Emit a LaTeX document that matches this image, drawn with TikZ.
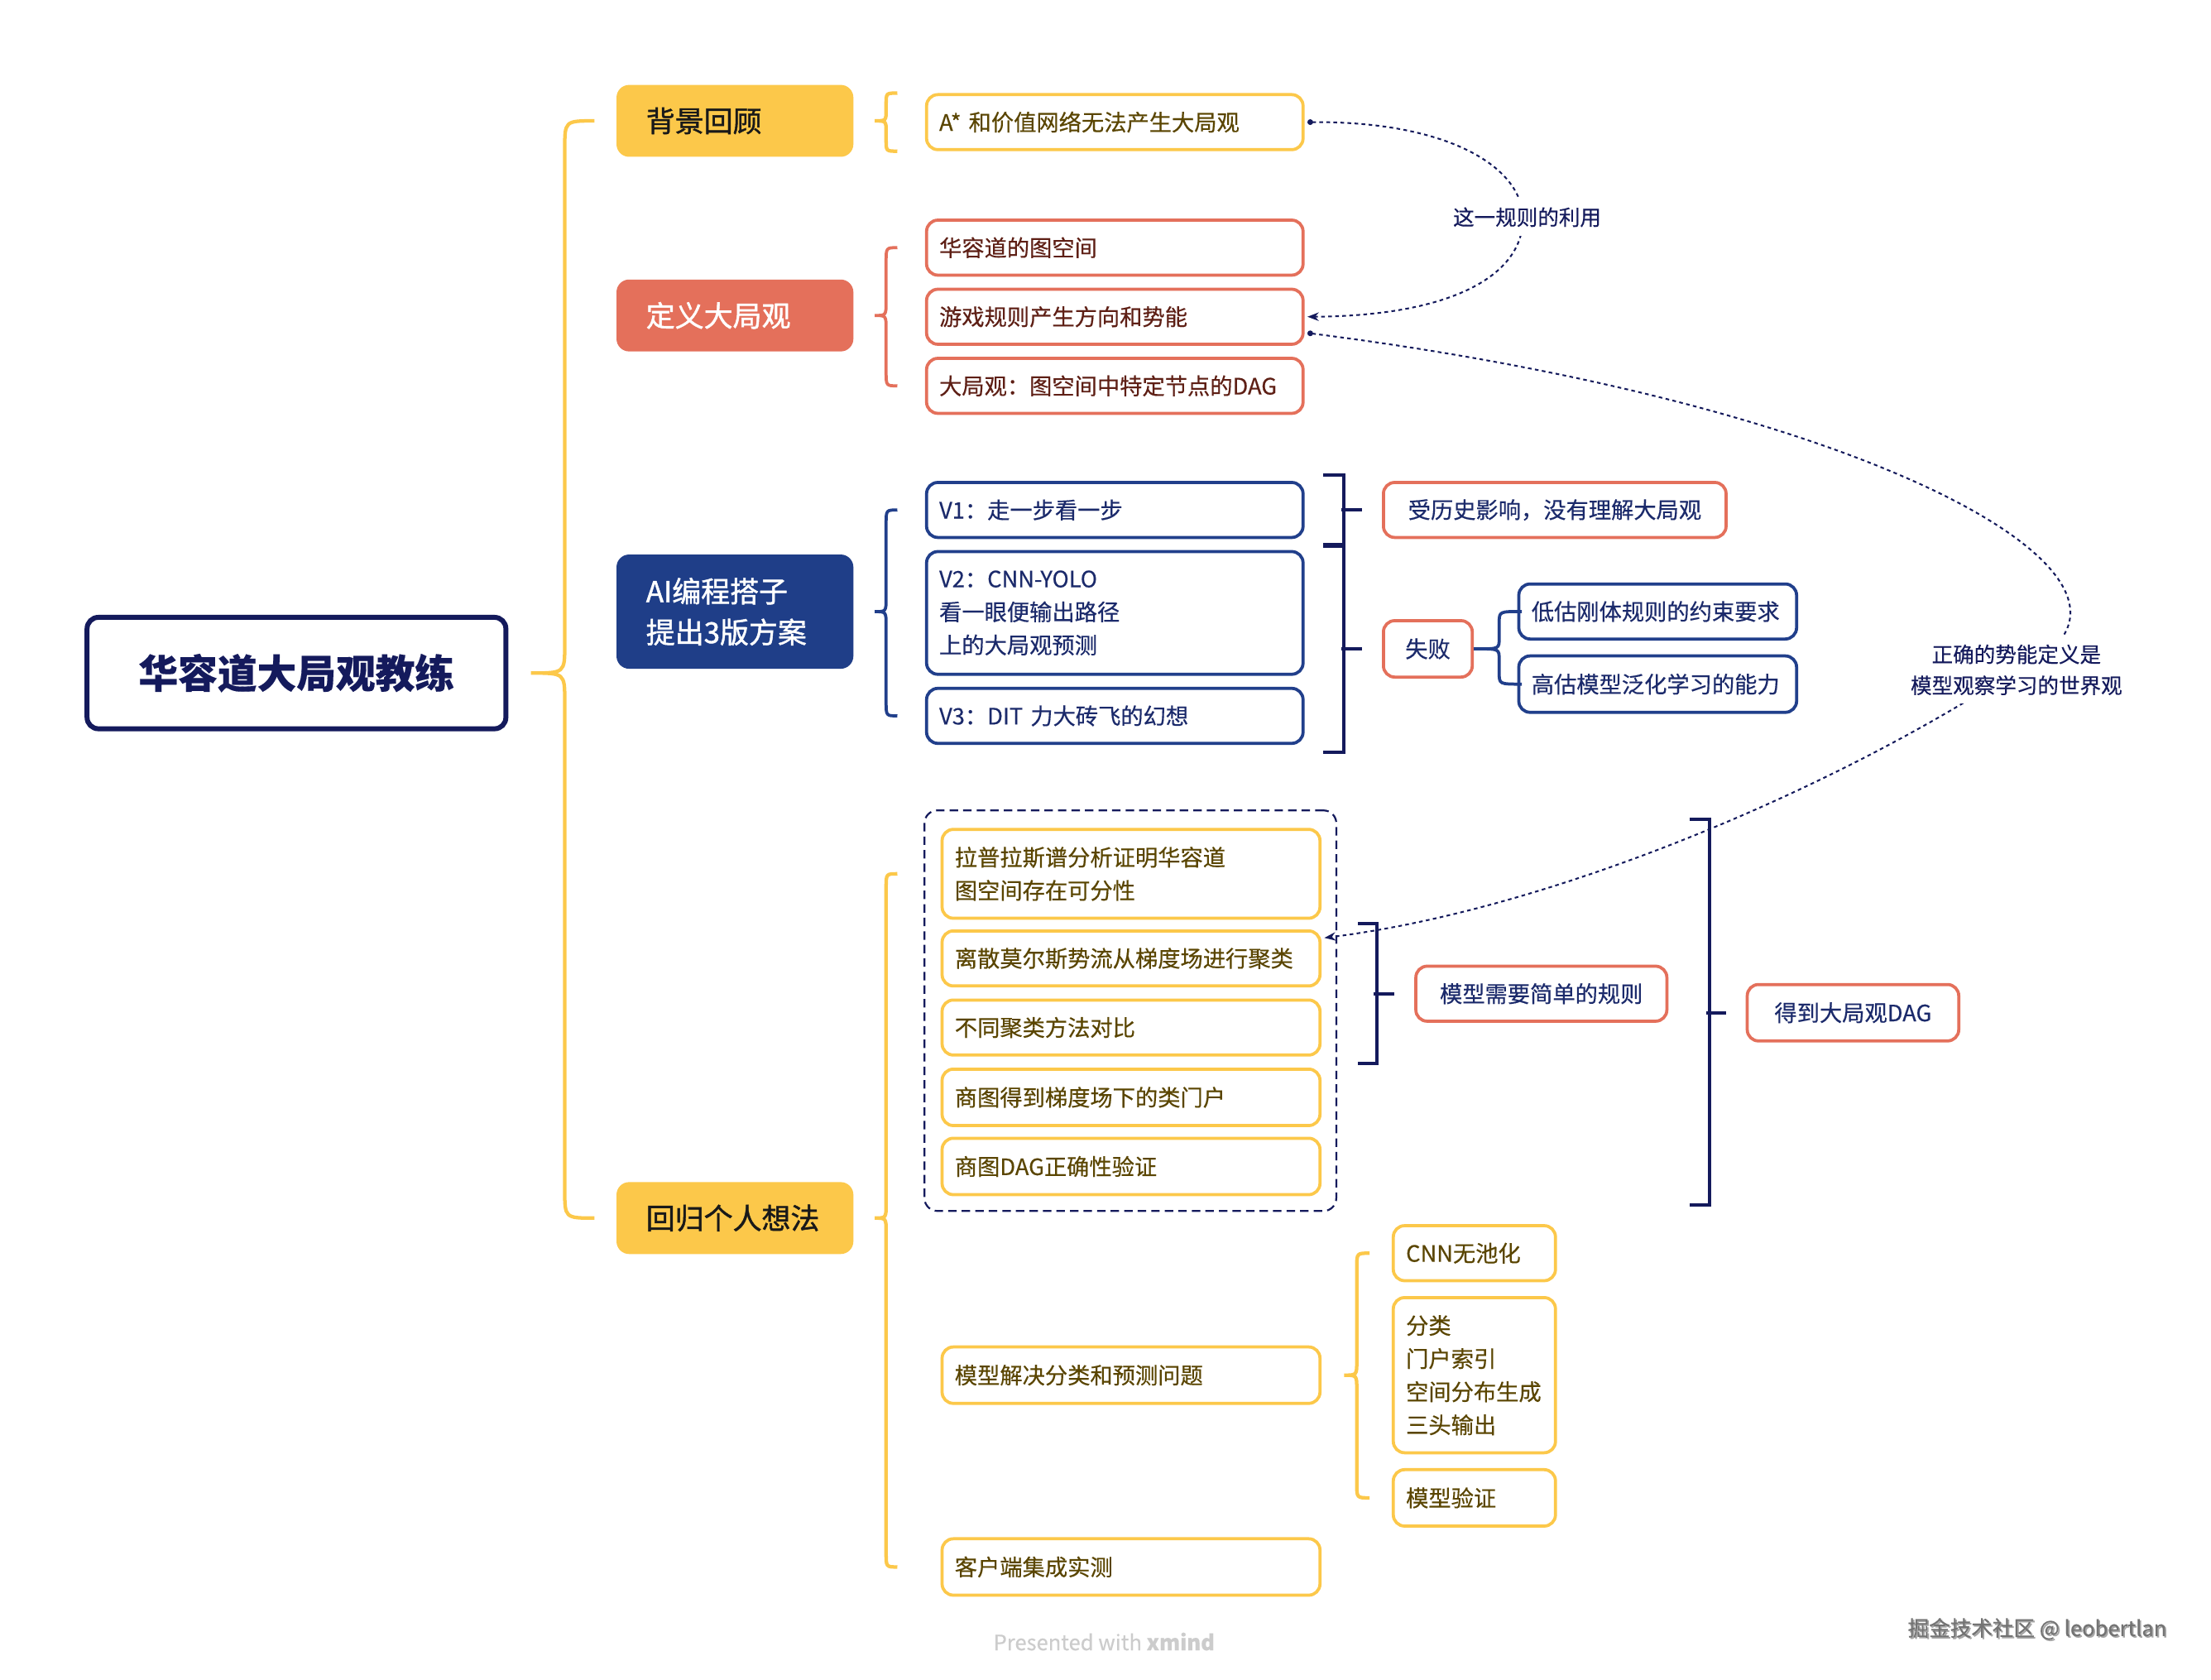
\documentclass[tikz,border=0pt]{standalone}
\usepackage{fontspec}
\setmainfont{Noto Sans CJK SC}[FakeBold=0.35]
\newfontfamily\lonefont{Noto Sans CJK SC}[FakeBold=1.3]
\usetikzlibrary{calc,arrows.meta}
\definecolor{ylw}{HTML}{FCC84A}
\definecolor{crl}{HTML}{E4705B}
\definecolor{nvf}{HTML}{1F3E88}
\definecolor{nvb}{HTML}{213F8B}
\definecolor{nvd}{HTML}{141A5C}
\definecolor{ytxt}{HTML}{5A4500}
\definecolor{ctxt}{HTML}{5E1F15}
\definecolor{ntxt}{HTML}{1B2A6B}
\newcommand{\mybrace}[7]{%
\draw[#1] let \p1=#2, \p2=#5, \p3=#6 in
 ({\x1+#7},\y2) .. controls ({\x1+#3},\y2) .. ({\x1+#3},{\y2-#4}) -- ({\x1+#3},{\y1+#4}) .. controls ({\x1+#3},\y1) .. (\x1,\y1) .. controls ({\x1+#3},\y1) .. ({\x1+#3},{\y1-#4}) -- ({\x1+#3},{\y3+#4}) .. controls ({\x1+#3},\y3) .. ({\x1+#7},\y3);}
\begin{document}
\begin{tikzpicture}[x=1pt,y=-1pt,
  box/.style={draw, rounded corners=8pt, line width=2.2pt, fill=white, anchor=north west, inner xsep=9pt, inner ysep=0pt, align=left, font=\fontsize{16}{23.5}\selectfont},
  ych/.style={box, draw=ylw, text=ytxt},
  cch/.style={box, draw=crl, text=ctxt},
  nch/.style={box, draw=nvb, text=ntxt},
  sumn/.style={box, draw=crl, text=ntxt, align=center, inner xsep=4pt},
  lone/.style={rounded corners=9pt, anchor=north west, inner xsep=21pt, inner ysep=0pt, align=left, font=\lonefont\fontsize{20.5}{29}\selectfont, minimum height=51pt, text width=126pt},
  ybr/.style={draw=ylw, line width=2.5pt},
  cbr/.style={draw=crl, line width=2.2pt},
  nbr/.style={draw=nvb, line width=2.2pt},
  bk/.style={draw=nvd, line width=2.4pt},
  rel/.style={draw=nvd, line width=1.2pt, dash pattern=on 2.6pt off 2.4pt, {Circle[length=4pt]}-{Stealth[length=8pt,width=6pt]}},
  rlab/.style={fill=white, text=nvd, font=\fontsize{15}{22}\selectfont, align=center, inner sep=6pt}
]
\fill[white] (0,0) rectangle (1568,1191);
\useasboundingbox (0,0) rectangle (1568,1191);

% root
\node[draw=nvd, line width=3.5pt, rounded corners=8pt, fill=white, anchor=north west, minimum width=297pt, minimum height=79pt, inner sep=0pt, text=nvd, font=\fontsize{28}{32}\selectfont\bfseries] (root) at (60,436) {华容道大局观教练};

% level 1
\node[lone, fill=ylw, text=black!90] (bg) at (437,60) {背景回顾};
\node[lone, fill=crl, text=white] (dy) at (437,198) {定义大局观};
\node[lone, fill=nvf, text=white, minimum height=81pt] (ai) at (437,393) {AI编程搭子\\提出3版方案};
\node[lone, fill=ylw, text=black!90] (hg) at (437,838) {回归个人想法};

% children
\node[ych, text width=249pt, minimum height=39pt] (a1) at (656,66) {A* 和价值网络无法产生大局观};
\node[cch, text width=249pt, minimum height=39pt] (d1) at (656,155) {华容道的图空间};
\node[cch, text width=249pt, minimum height=39pt] (d2) at (656,204) {游戏规则产生方向和势能};
\node[cch, text width=249pt, minimum height=39pt] (d3) at (656,253) {大局观：图空间中特定节点的DAG};
\node[nch, text width=249pt, minimum height=39pt] (v1) at (656,341) {V1：走一步看一步};
\node[nch, text width=249pt, minimum height=87pt] (v2) at (656,390) {V2：CNN-YOLO\\看一眼便输出路径\\上的大局观预测};
\node[nch, text width=249pt, minimum height=39pt] (v3) at (656,487) {V3：DIT 力大砖飞的幻想};

\node[sumn, text width=235pt, minimum height=39pt] (s1) at (980,341) {受历史影响，没有理解大局观};
\node[sumn, text width=55pt, minimum height=40pt] (s2) at (980,439) {失败};
\node[nch, text width=179pt, minimum height=39pt] (f1) at (1076,413) {低估刚体规则的约束要求};
\node[nch, text width=179pt, minimum height=40pt] (f2) at (1076,464) {高估模型泛化学习的能力};

% group boundary
\node[draw=nvd, dash pattern=on 6pt off 3.6pt, rounded corners=9pt, line width=1.3pt, anchor=north west, minimum width=292pt, minimum height=284pt, inner sep=0pt] (grp) at (655,574) {};
\node[ych, text width=250pt, minimum height=63pt] (h1) at (667,587) {拉普拉斯谱分析证明华容道\\图空间存在可分性};
\node[ych, text width=250pt, minimum height=39pt] (h2) at (667,659) {离散莫尔斯势流从梯度场进行聚类};
\node[ych, text width=250pt, minimum height=39pt] (h3) at (667,708) {不同聚类方法对比};
\node[ych, text width=250pt, minimum height=40pt] (h4) at (667,757) {商图得到梯度场下的类门户};
\node[ych, text width=250pt, minimum height=40pt] (h5) at (667,806) {商图DAG正确性验证};
\node[ych, text width=250pt, minimum height=40pt] (h6) at (667,954) {模型解决分类和预测问题};
\node[ych, text width=250pt, minimum height=40pt] (h7) at (667,1090) {客户端集成实测};

\node[ych, text width=97pt, minimum height=39pt] (m1) at (987,868) {CNN无池化};
\node[ych, text width=97pt, minimum height=110pt] (m2) at (987,919) {分类\\门户索引\\空间分布生成\\三头输出};
\node[ych, text width=97pt, minimum height=40pt] (m3) at (987,1041) {模型验证};

\node[sumn, text width=170pt, minimum height=39pt] (s3) at (1003,684) {模型需要简单的规则};
\node[sumn, text width=142pt, minimum height=40pt] (s4) at (1238,697) {得到大局观DAG};

% braces
\mybrace{ybr}{([xshift=16pt]root.east)}{24pt}{20pt}{(bg.west)}{(hg.west)}{45pt}
\mybrace{ybr}{([xshift=15pt]bg.east)}{8pt}{8pt}{(a1.north west)}{(a1.south west)}{16pt}
\mybrace{cbr}{([xshift=15pt]dy.east)}{8pt}{10pt}{(d1.west)}{(d3.west)}{16pt}
\mybrace{nbr}{([xshift=15pt]ai.east)}{8pt}{10pt}{(v1.west)}{(v3.west)}{16pt}
\mybrace{ybr}{([xshift=15pt]hg.east)}{8pt}{10pt}{(h1.west)}{(h7.west)}{16pt}
\mybrace{ybr}{([xshift=16pt]h6.east)}{9pt}{10pt}{(m1.west)}{(m3.west)}{18pt}
\mybrace{nbr}{([xshift=3pt]s2.east)}{15pt}{8pt}{(f1.west)}{(f2.west)}{31pt}
\draw[nbr] (s2.east) -- ([xshift=3pt]s2.east);

% summary brackets
\draw[bk] let \p1=(v1.north east), \p2=(v1.south east) in ({\x1+13pt},{\y1+4pt}) -- ({\x1+28pt},{\y1+4pt}) -- ({\x1+28pt},{\y2-5pt}) -- ({\x1+13pt},{\y2-5pt});
\draw[bk] ([xshift=-29pt]s1.west) -- ([xshift=-14pt]s1.west);
\draw[bk] let \p1=(v2.north east), \p2=(v3.south east) in ({\x1+13pt},{\y1+4pt}) -- ({\x1+28pt},{\y1+4pt}) -- ({\x1+28pt},{\y2-5pt}) -- ({\x1+13pt},{\y2-5pt});
\draw[bk] ([xshift=-29pt]s2.west) -- ([xshift=-14pt]s2.west);
\draw[bk] let \p1=(h2.north east), \p2=(h3.south east) in ({\x1+26pt},{\y1+4pt}) -- ({\x1+39pt},{\y1+4pt}) -- ({\x1+39pt},{\y2-5pt}) -- ({\x1+26pt},{\y2-5pt});
\draw[bk] ([xshift=-29pt]s3.west) -- ([xshift=-14pt]s3.west);
\draw[bk] let \p1=(h1.north east), \p2=(h5.south east) in ({\x1+261pt},{\y1+6pt}) -- ({\x1+275pt},{\y1+6pt}) -- ({\x1+275pt},{\y2-6pt}) -- ({\x1+261pt},{\y2-6pt});
\draw[bk] ([xshift=-28pt]s4.west) -- ([xshift=-14pt]s4.west);

% relationships
\draw[rel] ([xshift=2pt]a1.east) .. controls (1030,86) and (1080,120) .. (1080,155) .. controls (1080,195) and (1030,224) .. ([xshift=2pt]d2.east);
\node[rlab] (lab1) at (1083,154) {这一规则的利用};
\draw[rel] ([xshift=2pt,yshift=-11.5pt]d2.east) .. controls (1350,290) and (1560,420) .. (1430,475) .. controls (1300,560) and (1100,645) .. ([xshift=2pt,yshift=-6pt]h2.north east);
\node[rlab] (lab2) at (1430,475) {正确的势能定义是\\模型观察学习的世界观};

% footer
\node[text=black!20, font=\fontsize{15}{18}\selectfont] (pw) at (783,1164) {Presented with \textbf{xmind}};
\node[anchor=east, text=black!35, font=\fontsize{15}{18}\selectfont] (wmsh) at (1541,1156) {掘金技术社区 @ leobertlan};
\node[anchor=east, text=black!55, font=\fontsize{15}{18}\selectfont] (wm) at (1540,1155) {掘金技术社区 @ leobertlan};
\end{tikzpicture}
\end{document}
